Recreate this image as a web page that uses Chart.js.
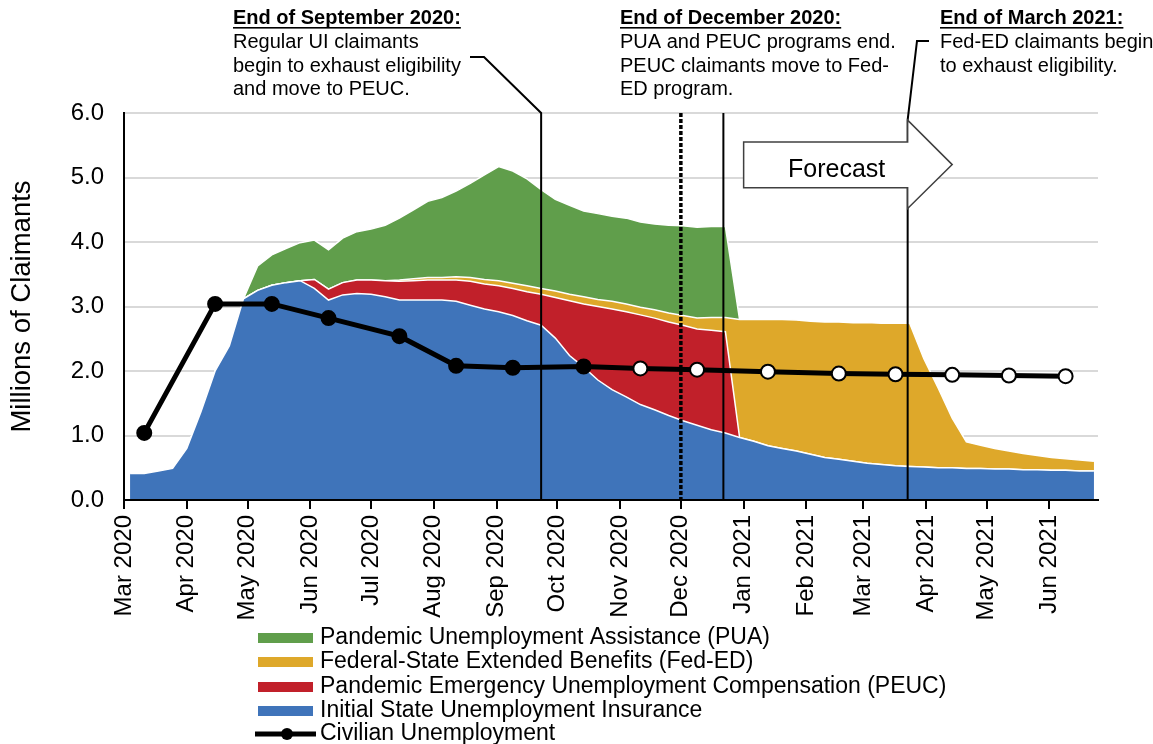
<!DOCTYPE html>
<html>
<head>
<meta charset="utf-8">
<title>Unemployment claimants</title>
<script src="https://cdn.jsdelivr.net/npm/chart.js@4.4.0/dist/chart.umd.min.js"></script>
<style>
  html, body { margin: 0; padding: 0; background: #fff; }
  canvas { display: block; }
</style>
</head>
<body>
<canvas id="chart" width="1153" height="744"></canvas>
<script>
// ── Data (millions of claimants, weekly) ─────────────────
const weekDates = [
  '2020-03-04', '2020-03-11', '2020-03-18', '2020-03-25', '2020-04-01', '2020-04-08', '2020-04-15',
  '2020-04-22', '2020-04-29', '2020-05-06', '2020-05-13', '2020-05-20', '2020-05-27', '2020-06-03',
  '2020-06-10', '2020-06-17', '2020-06-24', '2020-07-01', '2020-07-08', '2020-07-15', '2020-07-22',
  '2020-07-29', '2020-08-05', '2020-08-12', '2020-08-19', '2020-08-26', '2020-09-02', '2020-09-09',
  '2020-09-16', '2020-09-23', '2020-09-30', '2020-10-07', '2020-10-14', '2020-10-21', '2020-10-28',
  '2020-11-04', '2020-11-11', '2020-11-18', '2020-11-25', '2020-12-02', '2020-12-09', '2020-12-16',
  '2020-12-23', '2020-12-30', '2021-01-06', '2021-01-13', '2021-01-20', '2021-01-27', '2021-02-03',
  '2021-02-10', '2021-02-17', '2021-02-24', '2021-03-03', '2021-03-10', '2021-03-17', '2021-03-24',
  '2021-03-31', '2021-04-07', '2021-04-14', '2021-04-21', '2021-04-28', '2021-05-05', '2021-05-12',
  '2021-05-19', '2021-05-26', '2021-06-02', '2021-06-09', '2021-06-16', '2021-06-23',
];

const stateUI = [
  0.41, 0.41, 0.45, 0.49, 0.80, 1.37, 2.00, 2.39, 3.12, 3.25, 3.33, 3.37, 3.40, 3.28,
  3.10, 3.18, 3.20, 3.19, 3.15, 3.10, 3.10, 3.10, 3.10, 3.08, 3.02, 2.96, 2.92, 2.86,
  2.78, 2.71, 2.51, 2.24, 2.06, 1.86, 1.71, 1.60, 1.48, 1.40, 1.31, 1.23, 1.16, 1.09,
  1.04, 0.97, 0.91, 0.84, 0.80, 0.76, 0.71, 0.66, 0.63, 0.60, 0.57, 0.55, 0.53, 0.52,
  0.51, 0.50, 0.50, 0.49, 0.49, 0.48, 0.48, 0.47, 0.47, 0.46, 0.46, 0.45, 0.45,
];

const peuc = [
  0, 0, 0, 0, 0, 0, 0, 0, 0, 0, 0, 0, 0, 0.14,
  0.17, 0.19, 0.21, 0.22, 0.25, 0.29, 0.30, 0.31, 0.31, 0.33, 0.37, 0.39, 0.40, 0.42,
  0.45, 0.48, 0.63, 0.85, 0.98, 1.14, 1.25, 1.32, 1.39, 1.42, 1.45, 1.48, 1.49, 1.54,
  1.57, 0, 0, 0, 0, 0, 0, 0, 0, 0, 0, 0, 0, 0,
  0, 0, 0, 0, 0, 0, 0, 0, 0, 0, 0, 0, 0,
];

const fedED = [
  0, 0, 0, 0, 0, 0, 0, 0, 0, 0, 0, 0, 0, 0,
  0, 0, 0, 0, 0, 0.02, 0.03, 0.04, 0.04, 0.05, 0.06, 0.07, 0.08, 0.08,
  0.09, 0.09, 0.10, 0.10, 0.11, 0.11, 0.12, 0.12, 0.12, 0.13, 0.14, 0.15, 0.17, 0.20,
  0.22, 1.83, 1.89, 1.96, 2.00, 2.03, 2.06, 2.10, 2.13, 2.15, 2.18, 2.19, 2.21, 2.22,
  1.68, 1.24, 0.77, 0.41, 0.36, 0.32, 0.28, 0.25, 0.22, 0.20, 0.18, 0.17, 0.15,
];

const pua = [
  0, 0, 0, 0, 0, 0, 0, 0, 0, 0.38, 0.47, 0.53, 0.59, 0.61,
  0.61, 0.69, 0.75, 0.79, 0.86, 0.96, 1.07, 1.18, 1.24, 1.33, 1.46, 1.62, 1.77, 1.74,
  1.66, 1.53, 1.42, 1.38, 1.33, 1.33, 1.32, 1.33, 1.32, 1.33, 1.36, 1.39, 1.41, 1.41,
  1.41, 0, 0, 0, 0, 0, 0, 0, 0, 0, 0, 0, 0, 0,
  0, 0, 0, 0, 0, 0, 0, 0, 0, 0, 0, 0, 0,
];

// Civilian unemployment, monthly (actual until Oct 2020, forecast after)
const civDates = [
  '2020-03-11', '2020-04-15', '2020-05-13', '2020-06-10', '2020-07-15', '2020-08-12', '2020-09-09',
  '2020-10-14', '2020-11-11', '2020-12-09', '2021-01-13', '2021-02-17', '2021-03-17', '2021-04-14',
  '2021-05-12', '2021-06-09',
];
const civUnemp = [1.04, 3.04, 3.04, 2.82, 2.54, 2.08, 2.05, 2.07, 2.04, 2.02, 1.99, 1.96, 1.95, 1.94, 1.93, 1.92];
const forecastFrom = '2020-11-01';

const tickDates = [
  '2020-03-01', '2020-04-01', '2020-05-01', '2020-06-01', '2020-07-01', '2020-08-01', '2020-09-01', '2020-10-01',
  '2020-11-01', '2020-12-01', '2021-01-01', '2021-02-01', '2021-03-01', '2021-04-01', '2021-05-01', '2021-06-01',
];
const tickLabels = [
  'Mar 2020', 'Apr 2020', 'May 2020', 'Jun 2020', 'Jul 2020', 'Aug 2020', 'Sep 2020', 'Oct 2020',
  'Nov 2020', 'Dec 2020', 'Jan 2021', 'Feb 2021', 'Mar 2021', 'Apr 2021', 'May 2021', 'Jun 2021',
];

// ── Annotations ──────────────────────────────────────────
const notes = [
  { x: 233, title: 'End of September 2020:', lines: ['Regular UI claimants', 'begin to exhaust eligibility', 'and move to PEUC.'] },
  { x: 620, title: 'End of December 2020:', lines: ['PUA and PEUC programs end.', 'PEUC claimants move to Fed-', 'ED program.'] },
  { x: 940, title: 'End of March 2021:', lines: ['Fed-ED claimants begin', 'to exhaust eligibility.'] },
];
const markerSep = '2020-09-23';
const markerDec1 = '2020-12-01';
const markerDec2 = '2020-12-22';
const markerMar = '2021-03-23';
const forecastStart = '2021-01-01';
const forecastTip = '2021-04-14';

// ── Helpers ──────────────────────────────────────────────
const ORIGIN = Date.UTC(2020, 2, 1);
const dayOf = (s) => (Date.parse(s + 'T00:00:00Z') - ORIGIN) / 864e5;
const weekly = (vals) => weekDates.map((d, i) => ({ x: dayOf(d), y: vals[i] }));

const FONT = "'Liberation Sans', Arial, Helvetica, sans-serif";
const C = {
  pua: '#609e4b',
  fed: '#dea82a',
  peuc: '#c1202a',
  ui: '#3f74ba',
  grid: '#d9d9d9',
};

// ── Plugin: callouts, marker lines, forecast arrow, legend ──
const overlay = {
  id: 'overlay',
  afterDraw(chart) {
    const { ctx, chartArea: ca, scales } = chart;
    const X = (d) => scales.x.getPixelForValue(dayOf(d));
    const Y = (v) => scales.y.getPixelForValue(v);
    ctx.save();

    // marker lines
    ctx.strokeStyle = '#000';
    ctx.lineWidth = 2;
    const xs = X(markerSep), xd2 = X(markerDec2), xm = X(markerMar);
    ctx.beginPath();
    ctx.moveTo(470, 57); ctx.lineTo(484, 57); ctx.lineTo(xs, ca.top); ctx.lineTo(xs, ca.bottom);
    ctx.moveTo(xd2, ca.top); ctx.lineTo(xd2, ca.bottom);
    ctx.moveTo(929, 41); ctx.lineTo(917, 41); ctx.lineTo(xm, Y(5.89)); ctx.lineTo(xm, ca.bottom);
    ctx.stroke();

    ctx.lineWidth = 3.5;
    ctx.setLineDash([4, 2]);
    const xd1 = X(markerDec1);
    ctx.beginPath();
    ctx.moveTo(xd1, ca.top); ctx.lineTo(xd1, ca.bottom);
    ctx.stroke();
    ctx.setLineDash([]);

    // forecast arrow
    const x0 = X(forecastStart), x1 = xm, xt = X(forecastTip);
    ctx.beginPath();
    ctx.moveTo(x0, Y(5.55));
    ctx.lineTo(x1, Y(5.55));
    ctx.lineTo(x1, Y(5.89));
    ctx.lineTo(xt, Y(5.2));
    ctx.lineTo(x1, Y(4.52));
    ctx.lineTo(x1, Y(4.84));
    ctx.lineTo(x0, Y(4.84));
    ctx.closePath();
    ctx.fillStyle = '#fff';
    ctx.fill();
    ctx.strokeStyle = '#404040';
    ctx.lineWidth = 1.5;
    ctx.stroke();
    ctx.fillStyle = '#000';
    ctx.font = `25px ${FONT}`;
    ctx.textAlign = 'center';
    ctx.textBaseline = 'middle';
    ctx.fillText('Forecast', (x0 + x1) / 2 + 11, Y(5.12));

    // callout texts
    ctx.textAlign = 'left';
    ctx.textBaseline = 'alphabetic';
    notes.forEach((n) => {
      ctx.font = `bold 20px ${FONT}`;
      ctx.fillText(n.title, n.x, 24);
      const w = ctx.measureText(n.title).width;
      ctx.fillRect(n.x, 27, w, 1.6);
      ctx.font = `20px ${FONT}`;
      n.lines.forEach((l, i) => ctx.fillText(l, n.x, 48 + i * 23.5));
    });

    // legend (top of stack first, then the line)
    const rows = [4, 3, 2, 1, 0].map((i) => chart.data.datasets[i]);
    const rowY = [638, 662, 687, 711, 734];
    ctx.font = `23px ${FONT}`;
    ctx.textBaseline = 'middle';
    rows.forEach((ds, i) => {
      const y = rowY[i];
      if (ds.stack === 'civ') {
        ctx.strokeStyle = '#000';
        ctx.lineWidth = 5;
        ctx.beginPath();
        ctx.moveTo(255, y); ctx.lineTo(316, y);
        ctx.stroke();
        ctx.beginPath();
        ctx.arc(287, y, 6, 0, Math.PI * 2);
        ctx.fillStyle = '#000';
        ctx.fill();
      } else {
        ctx.fillStyle = ds.backgroundColor;
        ctx.fillRect(258, y - 5, 55, 10);
      }
      ctx.fillStyle = '#000';
      ctx.fillText(ds.label, 320, y);
    });
    ctx.restore();
  },
};

// ── Chart ────────────────────────────────────────────────
const area = (label, vals, color, fill) => ({
  type: 'line',
  label,
  data: weekly(vals),
  backgroundColor: color,
  borderColor: '#ffffff',
  borderWidth: 1.5,
  pointRadius: 0,
  tension: 0,
  fill,
});

new Chart(document.getElementById('chart'), {
  type: 'line',
  data: {
    datasets: [
      {
        type: 'line',
        label: 'Civilian Unemployment',
        stack: 'civ',
        data: civDates.map((d, i) => ({ x: dayOf(d), y: civUnemp[i] })),
        borderColor: '#000',
        borderWidth: 5,
        pointRadius: 7,
        pointBorderWidth: 2,
        pointBorderColor: '#000',
        pointBackgroundColor: civDates.map((d) => (d >= forecastFrom ? '#fff' : '#000')),
        fill: false,
        tension: 0,
      },
      area('Initial State Unemployment Insurance', stateUI, C.ui, 'origin'),
      area('Pandemic Emergency Unemployment Compensation (PEUC)', peuc, C.peuc, '-1'),
      area('Federal-State Extended Benefits (Fed-ED)', fedED, C.fed, '-1'),
      area('Pandemic Unemployment Assistance (PUA)', pua, C.pua, '-1'),
    ],
  },
  options: {
    responsive: false,
    animation: false,
    events: [],
    layout: { padding: { left: 0, top: 113, right: 55, bottom: 0 } },
    plugins: { legend: { display: false }, tooltip: { enabled: false } },
    scales: {
      x: {
        type: 'linear',
        min: 0,
        max: 481,
        afterBuildTicks: (s) => { s.ticks = tickDates.map((d) => ({ value: dayOf(d) })); },
        afterFit: (s) => { s.height = 244; },
        ticks: {
          autoSkip: false,
          minRotation: 90,
          maxRotation: 90,
          padding: 6,
          color: '#000',
          font: { family: FONT, size: 24 },
          callback: (v, i) => tickLabels[i],
        },
        grid: { drawOnChartArea: false, color: '#000', lineWidth: 2, tickLength: 9 },
        border: { color: '#000', width: 2, z: 1 },
      },
      y: {
        stacked: true,
        min: 0,
        max: 6,
        afterFit: (s) => { s.width = 124; },
        ticks: {
          stepSize: 1,
          padding: 20,
          color: '#000',
          font: { family: FONT, size: 24 },
          callback: (v) => v.toFixed(1),
        },
        grid: {
          drawTicks: false,
          lineWidth: 2,
          color: (c) => (c.tick && c.tick.value === 0 ? 'rgba(0,0,0,0)' : C.grid),
        },
        border: { color: '#000', width: 2, z: 1 },
        title: {
          display: true,
          text: 'Millions of Claimants',
          color: '#000',
          font: { family: FONT, size: 27.5 },
          padding: { top: 6, bottom: 0 },
        },
      },
    },
  },
  plugins: [overlay],
});
</script>
</body>
</html>
